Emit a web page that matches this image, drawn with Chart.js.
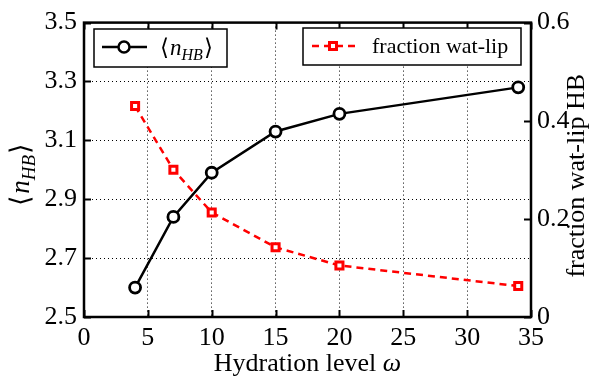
<!DOCTYPE html>
<html>
<head>
<meta charset="utf-8">
<script src="https://cdn.jsdelivr.net/npm/chart.js@4/dist/chart.umd.min.js"></script>
<style>
  html, body { margin: 0; padding: 0; background: #fff; }
  #wrap { width: 593px; height: 376px; position: relative; }
</style>
</head>
<body>
<div id="wrap"><canvas id="hbChart" width="593" height="376"></canvas></div>
<script>
// --- data ---
const hydration = [4, 7, 10, 15, 20, 34];
const nHB = [2.60, 2.84, 2.99, 3.13, 3.19, 3.28];
const fracWatLip = [0.430, 0.300, 0.213, 0.142, 0.105, 0.063];

const xTicks = [0, 5, 10, 15, 20, 25, 30, 35];
const leftTicks = [2.5, 2.7, 2.9, 3.1, 3.3, 3.5];
const rightTicks = [0, 0.2, 0.4, 0.6];

const FONT = '"Liberation Serif", serif';
const RED = '#ff0000';

// chart area box in the 593x376 canvas
const AREA = { left: 84, right: 531, top: 18, bottom: 317 };

// draws "<n_HB>" with italic n and subscript, starting at x (left), baseline y
function drawNHB(ctx, x, y, size) {
    ctx.save();
    ctx.textAlign = 'left';
    ctx.textBaseline = 'alphabetic';
    ctx.font = size + 'px ' + FONT;
    ctx.fillText('\u27E8', x, y);
    x += ctx.measureText('\u27E8').width + 1;
    ctx.font = 'italic ' + size + 'px ' + FONT;
    ctx.fillText('n', x, y);
    x += ctx.measureText('n').width;
    const sub = Math.round(size * 0.7);
    ctx.font = 'italic ' + sub + 'px ' + FONT;
    ctx.fillText('HB', x, y + size * 0.22);
    x += ctx.measureText('HB').width + 1;
    ctx.font = size + 'px ' + FONT;
    ctx.fillText('\u27E9', x, y);
    ctx.restore();
}
function nhbWidth(ctx, size) {
    ctx.save();
    ctx.font = size + 'px ' + FONT;
    let w = ctx.measureText('\u27E8').width + ctx.measureText('\u27E9').width + 2;
    ctx.font = 'italic ' + size + 'px ' + FONT;
    w += ctx.measureText('n').width;
    ctx.font = 'italic ' + Math.round(size * 0.7) + 'px ' + FONT;
    w += ctx.measureText('HB').width + 1;
    ctx.restore();
    return w;
}

const decorations = {
    id: 'decorations',
    afterDraw(chart) {
        const ctx = chart.ctx;
        const ca = chart.chartArea;
        const xs = chart.scales.x, ys = chart.scales.y, y1 = chart.scales.y1;
        ctx.save();

        // inward ticks on all four sides
        ctx.strokeStyle = '#000';
        ctx.lineWidth = 2;
        xTicks.forEach(v => {
            const px = Math.round(xs.getPixelForValue(v)) + 0.5;
            ctx.beginPath();
            ctx.moveTo(px, ca.bottom); ctx.lineTo(px, ca.bottom - 7);
            ctx.moveTo(px, ca.top); ctx.lineTo(px, ca.top + 7);
            ctx.stroke();
        });
        leftTicks.forEach(v => {
            const py = Math.round(ys.getPixelForValue(v)) + 0.5;
            ctx.beginPath();
            ctx.moveTo(ca.left, py); ctx.lineTo(ca.left + 7, py);
            ctx.stroke();
        });
        rightTicks.forEach(v => {
            const py = Math.round(y1.getPixelForValue(v)) + 0.5;
            ctx.beginPath();
            ctx.moveTo(ca.right, py); ctx.lineTo(ca.right - 7, py);
            ctx.stroke();
        });

        // frame
        ctx.lineWidth = 2.5;
        ctx.strokeRect(ca.left, ca.top, ca.right - ca.left, ca.bottom - ca.top);

        ctx.fillStyle = '#000';

        // x title
        ctx.textAlign = 'left';
        ctx.textBaseline = 'alphabetic';
        const xt = 'Hydration level ';
        ctx.font = 'italic 26px ' + FONT;
        const ww = ctx.measureText('\u03C9').width;
        ctx.font = '26px ' + FONT;
        const wt = ctx.measureText(xt).width;
        let sx = (ca.left + ca.right) / 2 - (wt + ww) / 2;
        ctx.fillText(xt, sx, 371);
        ctx.font = 'italic 26px ' + FONT;
        ctx.fillText('\u03C9', sx + wt, 371);

        // left y title <n_HB>
        ctx.save();
        ctx.translate(29, (ca.top + ca.bottom) / 2 + 4);
        ctx.rotate(-Math.PI / 2);
        const lw = nhbWidth(ctx, 27);
        drawNHB(ctx, -lw / 2, 0, 27);
        ctx.restore();

        // right y title
        ctx.save();
        ctx.translate(584, (ca.top + ca.bottom) / 2 + 6);
        ctx.rotate(-Math.PI / 2);
        ctx.font = '26px ' + FONT;
        ctx.textAlign = 'center';
        ctx.fillText('fraction wat-lip HB', 0, 0);
        ctx.restore();

        // legend 1 (black circles)
        ctx.fillStyle = '#fff';
        ctx.fillRect(94, 29, 133, 38);
        ctx.lineWidth = 1.5;
        ctx.strokeStyle = '#000';
        ctx.strokeRect(94, 29, 133, 38);
        ctx.lineWidth = 2.5;
        ctx.beginPath();
        ctx.moveTo(102, 47); ctx.lineTo(147, 47);
        ctx.stroke();
        ctx.beginPath();
        ctx.arc(124, 47, 5.5, 0, Math.PI * 2);
        ctx.fillStyle = '#fff';
        ctx.fill();
        ctx.stroke();
        ctx.fillStyle = '#000';
        drawNHB(ctx, 160, 55, 23);

        // legend 2 (red squares)
        ctx.fillStyle = '#fff';
        ctx.fillRect(303, 28, 218, 37);
        ctx.lineWidth = 1.5;
        ctx.strokeStyle = '#000';
        ctx.strokeRect(303, 28, 218, 37);
        ctx.strokeStyle = RED;
        ctx.lineWidth = 2.5;
        ctx.setLineDash([7, 5]);
        ctx.beginPath();
        ctx.moveTo(312, 46); ctx.lineTo(356, 46);
        ctx.stroke();
        ctx.setLineDash([]);
        ctx.lineWidth = 3;
        ctx.fillStyle = '#fff';
        ctx.fillRect(329.5, 42.5, 7, 7);
        ctx.strokeRect(329.5, 42.5, 7, 7);
        ctx.fillStyle = '#000';
        ctx.font = '22px ' + FONT;
        ctx.textAlign = 'left';
        ctx.fillText('fraction wat-lip', 372, 53);

        ctx.restore();
    }
};

function gridColor(edgeA, edgeB) {
    return ctx => (ctx.tick && (ctx.tick.value === edgeA || ctx.tick.value === edgeB)) ? 'rgba(0,0,0,0)' : '#000';
}

function build() {
    new Chart(document.getElementById('hbChart'), {
        type: 'scatter',
        data: {
            datasets: [{
                label: 'nHB',
                data: hydration.map((x, i) => ({ x: x, y: nHB[i] })),
                yAxisID: 'y',
                showLine: true,
                borderColor: '#000',
                borderWidth: 2.5,
                pointStyle: 'circle',
                pointRadius: 5.5,
                pointBorderWidth: 2.8,
                pointBackgroundColor: '#fff',
                pointBorderColor: '#000',
                order: 1
            }, {
                label: 'fraction wat-lip',
                data: hydration.map((x, i) => ({ x: x, y: fracWatLip[i] })),
                yAxisID: 'y1',
                showLine: true,
                borderColor: RED,
                borderWidth: 2.5,
                borderDash: [7, 5],
                pointStyle: 'rect',
                pointRadius: 5,
                pointBorderWidth: 3,
                pointBackgroundColor: '#fff',
                pointBorderColor: RED,
                order: 2
            }]
        },
        options: {
            responsive: false,
            animation: false,
            layout: { padding: { top: AREA.top, left: 0, right: 0, bottom: 0 } },
            plugins: { legend: { display: false }, tooltip: { enabled: false } },
            scales: {
                x: {
                    type: 'linear', min: 0, max: 35,
                    afterBuildTicks: s => { s.ticks = xTicks.map(v => ({ value: v })); },
                    afterFit: s => { s.height = 376 - AREA.bottom; },
                    grid: { drawTicks: false, color: gridColor(0, 35), lineWidth: 1 },
                    border: { display: false, dash: [1, 3] },
                    ticks: { padding: 6, color: '#000', font: { family: FONT, size: 26 } }
                },
                y: {
                    type: 'linear', position: 'left', min: 2.5, max: 3.5,
                    afterBuildTicks: s => { s.ticks = leftTicks.map(v => ({ value: v })); },
                    afterFit: s => { s.width = AREA.left; },
                    grid: { drawTicks: false, color: gridColor(2.5, 3.5), lineWidth: 1 },
                    border: { display: false, dash: [1, 3] },
                    ticks: { padding: 7, color: '#000', font: { family: FONT, size: 26 }, callback: v => v.toFixed(1) }
                },
                y1: {
                    type: 'linear', position: 'right', min: 0, max: 0.6,
                    afterBuildTicks: s => { s.ticks = rightTicks.map(v => ({ value: v })); },
                    afterFit: s => { s.width = 593 - AREA.right; },
                    grid: { display: false, drawTicks: false },
                    border: { display: false },
                    ticks: { padding: 6, color: '#000', font: { family: FONT, size: 26 }, callback: v => v === 0 ? '0' : v.toFixed(1) }
                }
            }
        },
        plugins: [decorations]
    });
}

Promise.all([
    document.fonts.load('26px "Liberation Serif"'),
    document.fonts.load('italic 26px "Liberation Serif"')
]).then(build, build);
</script>
</body>
</html>
